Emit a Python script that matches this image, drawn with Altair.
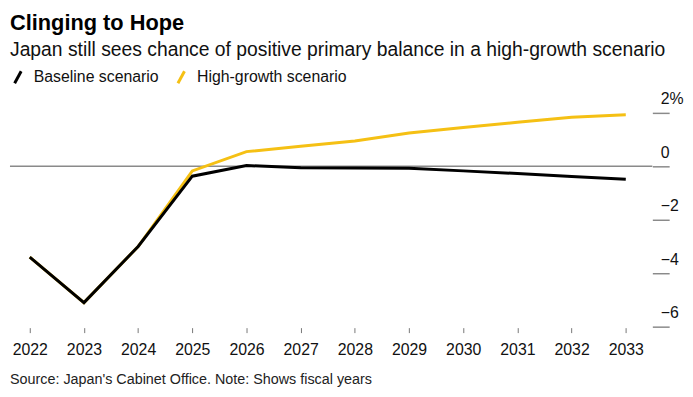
import altair as alt
import pandas as pd

years = [2022, 2023, 2024, 2025, 2026, 2027, 2028, 2029, 2030, 2031, 2032, 2033]
baseline = [-3.4, -5.1, -3.0, -0.37, 0.03, -0.05, -0.06, -0.07, -0.17, -0.27, -0.38, -0.48]
high_growth = [-3.4, -5.1, -3.0, -0.17, 0.55, 0.75, 0.95, 1.25, 1.45, 1.65, 1.84, 1.93]
series_names = ["Baseline scenario", "High-growth scenario"]
series_colors = ["#000000", "#F5C014"]
y_ticks = [2, 0, -2, -4, -6]
title_text = "Clinging to Hope"
subtitle_text = "Japan still sees chance of positive primary balance in a high-growth scenario"
source_text = "Source: Japan's Cabinet Office. Note: Shows fiscal years"

FONT = "Liberation Sans"

df = pd.DataFrame({
    "year": years * 2,
    "value": baseline + high_growth,
    "series": [series_names[0]] * len(years) + [series_names[1]] * len(years),
})

color = alt.Color(
    "series:N",
    scale=alt.Scale(domain=series_names, range=series_colors),
    legend=alt.Legend(
        title=None,
        orient="none",
        legendX=0,
        legendY=-44,
        direction="horizontal",
        symbolType="M-0.55,1L0.55,-1",
        symbolSize=144,
        symbolStrokeWidth=3,
        symbolFillColor="transparent",
        labelFont=FONT,
        labelFontSize=16,
        labelColor="#111",
        labelOffset=8,
        columnPadding=12,
        padding=0,
    ),
)

x = alt.X(
    "year:Q",
    scale=alt.Scale(domain=[2021.635, 2033.49], nice=False, zero=False),
    axis=alt.Axis(
        title=None,
        values=years,
        format="d",
        domain=False,
        grid=False,
        tickSize=5,
        tickColor="#777",
        tickWidth=1,
        offset=1,
        labelPadding=9,
        labelFont=FONT,
        labelFontSize=16,
        labelColor="#111",
        labelBaseline="top",
    ),
)

y = alt.Y(
    "value:Q",
    scale=alt.Scale(domain=[-6, 2], nice=False, zero=False),
    axis=alt.Axis(
        title=None,
        orient="right",
        values=y_ticks,
        domain=False,
        grid=False,
        tickSize=17,
        tickColor="#8a8a8a",
        tickWidth=1.5,
        labelAlign="left",
        labelBaseline="alphabetic",
        labelPadding=-9,
        labelOffset=-9,
        labelFont=FONT,
        labelFontSize=16,
        labelColor="#111",
        labelExpr="datum.value == 2 ? '2%' : datum.label",
    ),
)

base = alt.Chart(df)

zero_rule = alt.Chart(pd.DataFrame({"z": [0]})).mark_rule(
    color="#8a8a8a", strokeWidth=1.5
).encode(y=alt.Y("z:Q", scale=alt.Scale(domain=[-6, 2], nice=False)))

hg_line = base.transform_filter(alt.datum.series == series_names[1]).mark_line(
    strokeWidth=3, strokeJoin="miter"
).encode(x=x, y=y, color=color)

bl_line = base.transform_filter(alt.datum.series == series_names[0]).mark_line(
    strokeWidth=3, strokeJoin="miter"
).encode(x=x, y=y, color=color)

source = alt.Chart(pd.DataFrame({"t": [source_text]})).mark_text(
    align="left", baseline="middle", font=FONT, fontSize=14.5, color="#222"
).encode(text="t:N", x=alt.value(0), y=alt.value(270))

chart = alt.layer(zero_rule, hg_line, bl_line, source).properties(
    width=649,
    height=216,
    padding={"left": 2, "top": 104, "right": 33, "bottom": 60},
    autosize=alt.AutoSizeParams(type="none"),
    title=alt.TitleParams(
        text=title_text,
        subtitle=subtitle_text,
        anchor="start",
        frame="group",
        offset=9,
        font=FONT,
        fontSize=22,
        fontWeight="bold",
        color="#000",
        subtitleFont=FONT,
        subtitleFontSize=19.5,
        subtitleColor="#111",
        subtitlePadding=6,
    ),
).configure_view(stroke=None)

chart.save("out.html", embed_options={"renderer": "svg", "actions": False})
